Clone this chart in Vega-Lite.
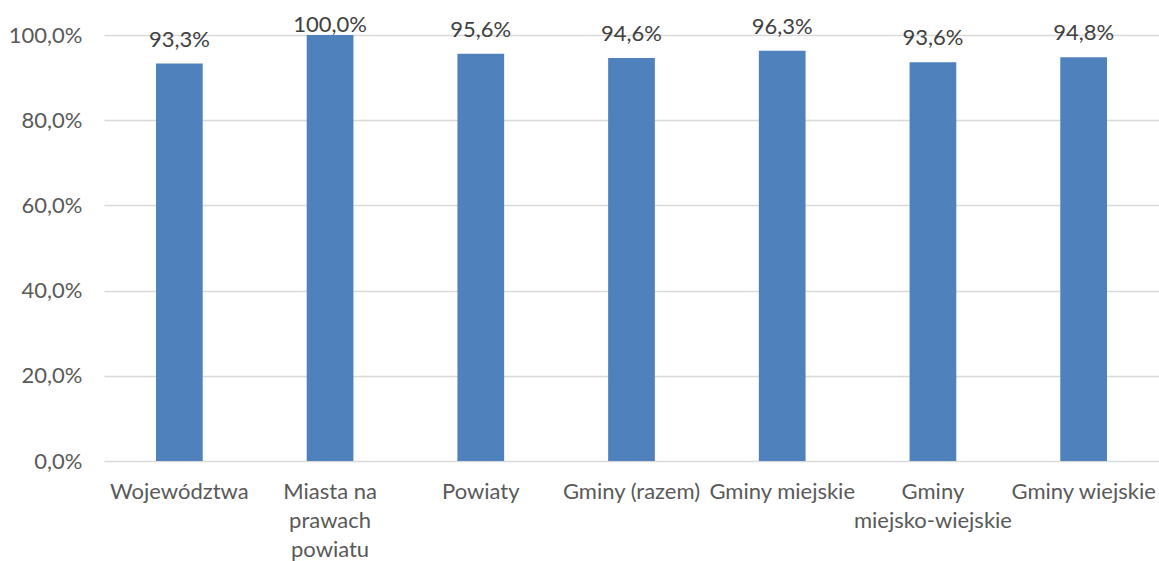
{
  "$schema": "https://vega.github.io/schema/vega-lite/v6.json",
  "width": 1055,
  "height": 426,
  "autosize": {"type": "none"},
  "padding": {"left": 104, "top": 35, "right": 0, "bottom": 100},
  "config": {
    "locale": {"number": {"decimal": ",", "thousands": " ", "grouping": [3], "currency": ["", " zł"]}},
    "view": {"stroke": null},
    "font": "Lato"
  },
  "data": {
    "values": [
      {"kategoria": "Województwa", "wartosc": 0.933},
      {"kategoria": "Miasta na prawach powiatu", "wartosc": 1.0},
      {"kategoria": "Powiaty", "wartosc": 0.956},
      {"kategoria": "Gminy (razem)", "wartosc": 0.946},
      {"kategoria": "Gminy miejskie", "wartosc": 0.963},
      {"kategoria": "Gminy miejsko-wiejskie", "wartosc": 0.936},
      {"kategoria": "Gminy wiejskie", "wartosc": 0.948}
    ]
  },
  "encoding": {
    "x": {
      "field": "kategoria",
      "type": "nominal",
      "sort": null,
      "scale": {"paddingInner": 0.69, "paddingOuter": 0.345},
      "axis": {
        "title": null,
        "labelAngle": 0,
        "labelFont": "Lato",
        "labelFontSize": 22,
        "labelColor": "#595959",
        "labelPadding": 20,
        "labelLineHeight": 29,
        "labelLimit": 0,
        "ticks": false,
        "domain": false,
        "grid": false,
        "labelExpr": "datum.value == 'Miasta na prawach powiatu' ? ['Miasta na', 'prawach', 'powiatu'] : datum.value == 'Gminy miejsko-wiejskie' ? ['Gminy', 'miejsko-wiejskie'] : datum.value"
      }
    },
    "y": {
      "field": "wartosc",
      "type": "quantitative",
      "scale": {"domain": [0, 1], "nice": false},
      "axis": {
        "title": null,
        "format": ".1%",
        "values": [0, 0.2, 0.4, 0.6, 0.8, 1.0],
        "labelFont": "Lato",
        "labelFontSize": 22,
        "labelColor": "#595959",
        "labelPadding": 22,
        "ticks": false,
        "domain": false,
        "grid": true,
        "gridColor": "#d9d9d9",
        "gridWidth": 1.5
      }
    }
  },
  "layer": [
    {"mark": {"type": "bar", "color": "#4F81BD"}},
    {
      "transform": [{"filter": "datum.wartosc < 1"}],
      "mark": {"type": "text", "baseline": "alphabetic", "dy": -17, "font": "Lato", "fontSize": 22, "color": "#404040"},
      "encoding": {"text": {"field": "wartosc", "type": "quantitative", "format": ".1%"}}
    },
    {
      "transform": [{"filter": "datum.wartosc >= 1"}],
      "mark": {"type": "text", "baseline": "alphabetic", "dy": -3, "font": "Lato", "fontSize": 22, "color": "#404040"},
      "encoding": {"text": {"field": "wartosc", "type": "quantitative", "format": ".1%"}}
    }
  ]
}
